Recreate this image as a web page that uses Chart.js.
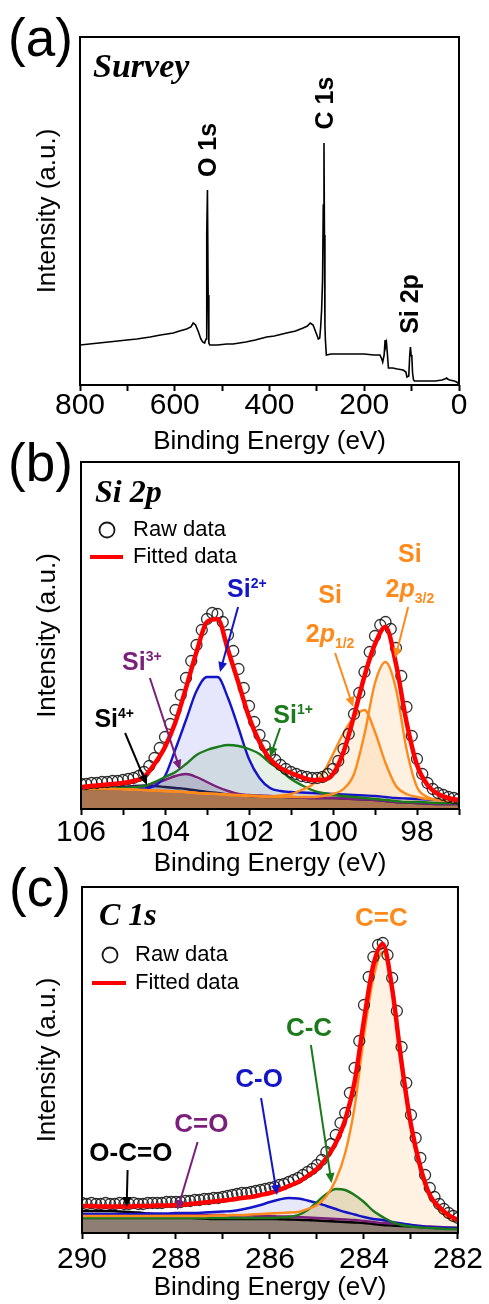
<!DOCTYPE html>
<html><head><meta charset="utf-8">
<script src="https://cdn.jsdelivr.net/npm/chart.js@4.4.1/dist/chart.umd.min.js"></script>
<style>
html,body{margin:0;padding:0;background:#fff;}
#wrap{position:relative;width:489px;height:1304px;overflow:hidden;background:#fff;}
canvas{position:absolute;left:0;}
</style></head><body>
<div id="wrap">
<canvas id="cA" width="489" height="460" style="top:0px;width:489px;height:460px"></canvas>
<canvas id="cB" width="489" height="450" style="top:430px;width:489px;height:450px"></canvas>
<canvas id="cC" width="489" height="454" style="top:850px;width:489px;height:454px"></canvas>
</div>
<script>
// ---------------- DATA ----------------
// (a) survey
const SURVEY_E = [800,760,720,701,680,652,630,603,590,575,566,561,556,550,545,541,537,534,532.5,531,529.5,528,526,510,490,477,450,430,406,390,364,345,329,320,314,308,304,300,297,294,292,290,288,286.5,285,284,283,282,280,270,250,230,200,180,167,163,161,158,156,155,153,151,149,146,140,130,118,112,110,106,104,102.5,101,99.5,98,96,94,80,64,50,36,30,26,24,20,10,5,2,0];
const SURVEY_I = [40,42,44,45,46,48,50,52,54,56,58,62,60,53,46,43,42,46,150,195,90,42,40,40,41,41,43,45,48,49,52,54,57,59,62,60,55,50,46,47,58,75,105,180,242,150,60,45,30,31,31,31,31,30,30,26,23,30,45,38,42,30,17,17,17,16,15,13,8,9,30,38,30,28,12,5,4,4,4,4,5,6,7,6,5,4,3,2,0];
const SURVEY_TICKS = [800,600,400,200,0];

// (b) Si 2p
const SI_E = [106,105.75,105.5,105.25,105,104.75,104.5,104.25,104,103.75,103.5,103.25,103,102.75,102.5,102.25,102,101.75,101.5,101.25,101,100.75,100.5,100.25,100,99.75,99.5,99.25,99,98.75,98.5,98.25,98,97.75,97.5,97.25,97];
const SI_BG  = [20,20,20,20,19.8,19.5,19,18.5,18,17.5,17,16,15.5,15,14,13.5,13,12.5,12,12,11.5,11.5,11,11,11,10.5,10,9.5,9,8,7,6.5,6,5.5,5,5,5];
const SI_FIT = [22,23,24,25,26,28,32,45,62,87,121,157,187,190,159,126,92,67,50,41,36,32,29,29,35,57,93,133,165,182,145,87,44,24,15,11,9];
const SI_4   = [20.5,21,21,21.5,22,23,23.5,23,22,21,20,18.5,17,16,14.5,14,13,12.5,12,12,11.5,11.5,11,11,11,10.5,10,9.5,9,8,7,6.5,6,5.5,5,5,5];
const SI_3   = [20,20,20,20.5,21,21.5,23,26,29,33,35,32,27,22,18,15,14,13.5,13,12.5,12,11.5,11,11,11,10.5,10,9.5,9,8,7,6.5,6,5.5,5,5,5];
const SI_2   = [20,20,20,20,20,20,20.5,23,33,60,89,118,132,132,111,81,50,31,21,18,17,16.5,16,15.5,15,14.5,14,13.5,13,12,11,10.5,10,9.5,9,9,9];
const SI_1   = [20,20,20,20.5,21,21.5,23,27,32,37,45,54,59,62,64,63,60,55,46,39,30,24,19,16,14,13,12,11,10,9,8,7,7,6.5,6,6,6];
const SI_P12 = [20,20,20,20,19.8,19.5,19,18.5,18,17.5,17,16,15.5,15,14.5,14,13.5,13,12.5,13.5,15,19,24,35,55,76,92,99,77,46,23,15,12,10,9,8,8];
const SI_P32 = [20,20,20,20,19.8,19.5,19,18.5,18,17.5,17,16,15.5,15,14,13.5,13,12.5,12,12,12,12,12,13,15,20,35,75,126,147,120,60,22,12,9,8,7];
const SI_RAW_E = [106,105.875,105.75,105.625,105.5,105.375,105.25,105.125,105,104.875,104.75,104.625,104.5,104.375,104.25,104.125,104,103.875,103.75,103.625,103.5,103.375,103.25,103.125,103,102.875,102.75,102.625,102.5,102.375,102.25,102.125,102,101.875,101.75,101.625,101.5,101.375,101.25,101.125,101,100.875,100.75,100.625,100.5,100.375,100.25,100.125,100,99.875,99.75,99.625,99.5,99.375,99.25,99.125,99,98.875,98.75,98.625,98.5,98.375,98.25,98.125,98,97.875,97.75,97.625,97.5,97.375,97.25,97.125,97];
const SI_RAW = [25,25,26,26,27,27,28,28,29,30,31,33,37,43,51,61,72,85,99,114,131,148,164,179,190,196,195,187,174,158,140,121,103,87,74,63,55,49,44,40,37,35,33,32,31,31,32,35,40,48,60,75,95,116,137,157,173,184,187,180,161,133,102,73,50,35,26,20,16,14,12,11,10];
const SI_TICKS = [106,104,102,100,98];

// (c) C 1s
const C_E = [290,289.8,289.6,289.4,289.2,289,288.8,288.6,288.4,288.2,288,287.8,287.6,287.4,287.2,287,286.8,286.6,286.4,286.2,286,285.8,285.6,285.4,285.2,285,284.8,284.6,284.4,284.2,284,283.8,283.6,283.4,283.2,283,282.8,282.6,282.4,282.2,282];
const C_BG   = [14,14,14,14,14,14,14,14,14,14,14,14,14,14,14,14,14,14,14,14,14,13.8,13.5,13.3,13,12.5,12,11.5,11,10.5,10,9,8,7.5,7,6.5,6,5.5,5,5,5];
const C_FIT  = [27,27,26.5,26.5,26.5,26.5,27,27,27.5,27.5,28,28.5,29.5,30.5,31.5,32.5,33.5,35,36,38,40,43,47,51,57,64,75,90,113,151,213,268,289,244,170,108,66,38,26,18,13];
const C_CC   = [17,17,17,17,17,17,17,17,17,17,17,17,17,17,17.5,17.5,18,18,18.5,19,19.5,20,20.5,21,24,28,37,53,80,126,197,255,281,248,176,108,62,36,23,15,11];
const C_C    = [15,15,15,15,15,15,15,15,15,15,15,15,15,15,15,15,15,15,15,15,15,15.5,16,18,23,31,39,44,43,38,31,22,16,11,8,6.5,5.5,5,4.5,4,4];
const C_CO   = [19,19,19,19,19,19,19,19.5,19.5,19.5,20,20,20,20.5,21,21.5,22,23.5,25.5,28,31,33.5,35,34.5,32.5,30,27,24,21,18.5,16,14,13,11,9.5,8,7,6,5.5,5,5];
const C_CDO  = [17,17,17,17,17.5,17.5,17.5,18,18,18,18,18,18,18,18,18,17.5,17.5,17.5,17,17,16.5,16.5,16,15.5,15,14.5,14,13.5,13,12,11,10,9.5,9,8,7,6.5,6,5.5,5];
const C_OCO  = [22,22,22,22,21.5,21,20.5,19.5,18.5,17.5,16.5,15.5,15,14.5,14,14,14,14,14,14,14,13.8,13.5,13.3,13,12.5,12,11.5,11,10.5,10,9,8,7.5,7,6.5,6,5.5,5,5,5];
const C_RAW_E = [290,289.9,289.8,289.7,289.6,289.5,289.4,289.3,289.2,289.1,289,288.9,288.8,288.7,288.6,288.5,288.4,288.3,288.2,288.1,288,287.9,287.8,287.7,287.6,287.5,287.4,287.3,287.2,287.1,287,286.9,286.8,286.7,286.6,286.5,286.4,286.3,286.2,286.1,286,285.9,285.8,285.7,285.6,285.5,285.4,285.3,285.2,285.1,285,284.9,284.8,284.7,284.6,284.5,284.4,284.3,284.2,284.1,284,283.9,283.8,283.7,283.6,283.5,283.4,283.3,283.2,283.1,283,282.9,282.8,282.7,282.6,282.5,282.4,282.3,282.2,282.1,282];
const C_RAW = [30,29,30,29,29,30,29,29,30,29,29,30,29,29,30,30,30,30,31,31,31,31,32,32,33,33,34,34,35,35,36,37,38,39,40,40,41,42,43,44,45,46,48,49,51,53,55,58,61,64,68,73,81,89,98,110,120,140,165,192,228,256,276,288,290,278,255,222,186,150,118,95,75,58,45,36,29,24,20,17,15];
const C_TICKS = [290,288,286,284,282];

// ---------------- STYLE ----------------
const SANS = '"Liberation Sans", Arial, Helvetica, sans-serif';
const SERIF = '"Liberation Serif", "Times New Roman", serif';
const ORANGE = '#ff8a1c', BLUE = '#1414c8', GREEN = '#1b7a1b', PURPLE = '#7a1f7a', NAVY = '#20204e', RED = '#ff0000';

const pts = (xs, ys) => xs.map((x, i) => ({x, y: ys[i]}));

function comp(label, xs, ys, color, fillColor, target) {
  return {label, data: pts(xs, ys), borderColor: color, borderWidth: 2.4,
    fill: fillColor ? {target: target, above: fillColor, below: fillColor} : false,
    pointRadius: 0, cubicInterpolationMode: 'monotone'};
}
function fitSet(xs, ys) {
  return {label: 'Fitted data', data: pts(xs, ys), borderColor: RED, borderWidth: 4.5,
    pointRadius: 0, fill: false, cubicInterpolationMode: 'monotone'};
}
function rawSet(xs, ys) {
  return {label: 'Raw data', data: pts(xs, ys), showLine: false, pointRadius: 5.5,
    pointBorderWidth: 1.3, pointBorderColor: 'rgba(25,25,25,0.9)', pointBackgroundColor: 'rgba(0,0,0,0)', fill: false};
}
function bgSet(xs, ys, fillColor, lineColor) {
  return {label: 'Background', data: pts(xs, ys), borderColor: lineColor, borderWidth: 1.5,
    backgroundColor: fillColor, fill: {target: 'start', above: fillColor, below: fillColor},
    pointRadius: 0, cubicInterpolationMode: 'monotone'};
}

function drawArrow(ctx, x1, y1, x2, y2, color) {
  const ang = Math.atan2(y2 - y1, x2 - x1), L = 10, W = 4.5;
  ctx.strokeStyle = color; ctx.fillStyle = color; ctx.lineWidth = 2;
  ctx.beginPath(); ctx.moveTo(x1, y1);
  ctx.lineTo(x2 - Math.cos(ang) * L * 0.8, y2 - Math.sin(ang) * L * 0.8); ctx.stroke();
  ctx.beginPath(); ctx.moveTo(x2, y2);
  ctx.lineTo(x2 - L * Math.cos(ang) + W * Math.sin(ang), y2 - L * Math.sin(ang) - W * Math.cos(ang));
  ctx.lineTo(x2 - L * Math.cos(ang) - W * Math.sin(ang), y2 - L * Math.sin(ang) + W * Math.cos(ang));
  ctx.closePath(); ctx.fill();
}
function rich(ctx, cx, by, parts, color) {
  let total = 0;
  parts.forEach(p => { ctx.font = p.f; p.w = ctx.measureText(p.t).width; total += p.w; });
  let x = cx - total / 2;
  ctx.fillStyle = color; ctx.textAlign = 'left'; ctx.textBaseline = 'alphabetic';
  parts.forEach(p => { ctx.font = p.f; ctx.fillText(p.t, x, by + (p.dy || 0)); x += p.w; });
}
const B25 = 'bold 25px ' + SANS, B14 = 'bold 14px ' + SANS, BI25 = 'italic bold 25px ' + SANS, B26 = 'bold 26px ' + SANS;
const sup = (t) => ({t, f: B14, dy: -9});
const sub = (t) => ({t, f: B14, dy: 6});

function decor(cfg) {
  return {
    id: 'decor',
    afterDraw(chart) {
      const {ctx, chartArea: a} = chart;
      const sx = chart.scales.x, sy = chart.scales.y;
      const px = (e) => sx.getPixelForValue(e), py = (v) => sy.getPixelForValue(v);
      ctx.save();
      ctx.strokeStyle = '#000'; ctx.lineWidth = 2;
      ctx.strokeRect(a.left, a.top, a.right - a.left, a.bottom - a.top);
      ctx.fillStyle = '#000'; ctx.textAlign = 'left'; ctx.textBaseline = 'alphabetic';
      ctx.font = '53px ' + SANS;
      ctx.fillText(cfg.letter, cfg.letterX, cfg.letterY);
      ctx.font = 'italic bold ' + cfg.titleSize + 'px ' + SERIF;
      ctx.fillText(cfg.title, a.left + cfg.titleDX, a.top + cfg.titleDY);
      if (cfg.legend) {
        const L = cfg.legend;
        ctx.strokeStyle = '#1a1a1a'; ctx.lineWidth = 1.8;
        ctx.beginPath(); ctx.arc(a.left + L.cx, a.top + L.cy, 7.5, 0, Math.PI * 2); ctx.stroke();
        ctx.strokeStyle = RED; ctx.lineWidth = 4;
        ctx.beginPath(); ctx.moveTo(a.left + L.lx1, a.top + L.ly); ctx.lineTo(a.left + L.lx2, a.top + L.ly); ctx.stroke();
        ctx.fillStyle = '#000'; ctx.font = '22px ' + SANS; ctx.textBaseline = 'middle';
        ctx.fillText('Raw data', a.left + L.tx, a.top + L.cy);
        ctx.fillText('Fitted data', a.left + L.tx, a.top + L.ly);
      }
      (cfg.rot || []).forEach(r => {
        ctx.save(); ctx.translate(px(r.e), py(r.v)); ctx.rotate(-Math.PI / 2);
        ctx.fillStyle = '#000'; ctx.font = 'bold 25px ' + SANS; ctx.textAlign = 'center'; ctx.textBaseline = 'middle';
        ctx.fillText(r.t, 0, 0); ctx.restore();
      });
      (cfg.arrows || []).forEach(r => drawArrow(ctx, px(r[0]), py(r[1]), px(r[2]), py(r[3]), r[4]));
      (cfg.labels || []).forEach(l => rich(ctx, px(l.e), py(l.v), l.parts, l.c));
      ctx.restore();
    }
  };
}

function makeChart(id, cfg) {
  const tickSet = cfg.ticks;
  return new Chart(document.getElementById(id), {
    type: 'line',
    data: {datasets: cfg.datasets},
    options: {
      responsive: false, animation: false, devicePixelRatio: 1,
      layout: {padding: {top: cfg.padTop, right: cfg.padRight, left: 0, bottom: 0}},
      plugins: {legend: {display: false}, tooltip: {enabled: false}, filler: {drawTime: 'beforeDatasetsDraw'}},
      scales: {
        x: {
          type: 'linear', position: 'bottom', reverse: true, min: cfg.xmin, max: cfg.xmax,
          afterFit: (s) => { s.height = cfg.xH; },
          ticks: {stepSize: cfg.step, autoSkip: false, maxRotation: 0, color: '#000', padding: cfg.tickPad,
            font: {family: SANS, size: 30, lineHeight: 1},
            callback: (v) => tickSet.includes(v) ? String(v) : ''},
          grid: {display: true, drawOnChartArea: false, drawTicks: true, tickLength: 6, tickWidth: 2, tickColor: '#000'},
          border: {display: false},
          title: {display: true, text: 'Binding Energy (eV)', color: '#000',
            font: {family: SANS, size: 26, lineHeight: 1.2}, padding: {top: 0, bottom: cfg.titlePad}}
        },
        y: {
          type: 'linear', position: 'left', min: 0, max: cfg.ymax,
          afterFit: (s) => { s.width = cfg.yW; },
          ticks: {display: false}, grid: {display: false}, border: {display: false},
          title: {display: true, text: 'Intensity (a.u.)', color: '#000',
            font: {family: SANS, size: 26, lineHeight: 1.2}, padding: {top: 32, bottom: 0}}
        }
      },
      elements: {line: {tension: 0}}
    },
    plugins: [decor(cfg.decor)]
  });
}

// (a)
makeChart('cA', {
  padTop: 37, padRight: 30, xH: 75, yW: 80, tickPad: 0, titlePad: 2.4,
  xmin: 0, xmax: 800, step: 100, ymax: 348, ticks: SURVEY_TICKS,
  datasets: [{label: 'Survey', data: pts(SURVEY_E, SURVEY_I), borderColor: '#000', borderWidth: 1.6, pointRadius: 0, fill: false}],
  decor: {letter: '(a)', letterX: 8, letterY: 56, title: 'Survey', titleSize: 34, titleDX: 13, titleDY: 40,
    rot: [{t: 'O 1s', e: 527.7, v: 235}, {t: 'C 1s', e: 280.7, v: 282}, {t: 'Si 2p', e: 101.3, v: 81}]}
});

// (b)
makeChart('cB', {
  padTop: 32, padRight: 30, xH: 71, yW: 81, tickPad: 3, titlePad: 0.4,
  xmin: 97, xmax: 106, step: 1, ymax: 347, ticks: SI_TICKS,
  datasets: [
    fitSet(SI_E, SI_FIT),
    rawSet(SI_RAW_E, SI_RAW),
    comp('Si 2p3/2', SI_E, SI_P32, ORANGE, 'rgba(255,160,60,0.15)', 8),
    comp('Si 2p1/2', SI_E, SI_P12, ORANGE, 'rgba(255,160,60,0.15)', 8),
    comp('Si1+', SI_E, SI_1, GREEN, 'rgba(60,140,60,0.13)', 8),
    comp('Si2+', SI_E, SI_2, BLUE, 'rgba(90,90,235,0.15)', 8),
    comp('Si3+', SI_E, SI_3, PURPLE, 'rgba(90,50,110,0.22)', 8),
    comp('Si4+', SI_E, SI_4, NAVY, 'rgba(20,20,60,0.12)', 8),
    bgSet(SI_E, SI_BG, 'rgb(172,118,80)', 'rgb(150,95,60)')
  ],
  decor: {letter: '(b)', letterX: 8, letterY: 51, title: 'Si 2p', titleSize: 32, titleDX: 14, titleDY: 40,
    legend: {cx: 26, cy: 68, lx1: 9, lx2: 42, ly: 95, tx: 52},
    arrows: [
      [102.26, 202, 102.69, 137, BLUE], [104.36, 131, 103.64, 39, PURPLE], [104.95, 76, 104.43, 24, '#000'],
      [101.26, 81, 101.5, 52, GREEN], [99.95, 156, 99.52, 102, ORANGE], [98.21, 202, 98.52, 151, ORANGE]
    ],
    labels: [
      {e: 98.17, v: 247, c: ORANGE, parts: [{t: 'Si', f: B25}]},
      {e: 98.17, v: 212, c: ORANGE, parts: [{t: '2', f: B25}, {t: 'p', f: BI25}, sub('3/2')]},
      {e: 100.07, v: 206, c: ORANGE, parts: [{t: 'Si', f: B25}]},
      {e: 100.07, v: 167, c: ORANGE, parts: [{t: '2', f: B25}, {t: 'p', f: BI25}, sub('1/2')]},
      {e: 102.05, v: 212, c: BLUE, parts: [{t: 'Si', f: B25}, sup('2+')]},
      {e: 104.55, v: 139, c: PURPLE, parts: [{t: 'Si', f: B25}, sup('3+')]},
      {e: 100.95, v: 86, c: GREEN, parts: [{t: 'Si', f: B25}, sup('1+')]},
      {e: 105.21, v: 82, c: '#000', parts: [{t: 'Si', f: B25}, sup('4+')]}
    ]}
});

// (c)
makeChart('cC', {
  padTop: 37, padRight: 29, xH: 71, yW: 82, tickPad: 6, titlePad: 0.4,
  xmin: 282, xmax: 290, step: 1, ymax: 346, ticks: C_TICKS,
  datasets: [
    fitSet(C_E, C_FIT),
    rawSet(C_RAW_E, C_RAW),
    comp('C=C', C_E, C_CC, ORANGE, 'rgba(255,170,70,0.15)', 7),
    comp('C-C', C_E, C_C, GREEN, 'rgba(110,120,30,0.2)', 7),
    comp('C-O', C_E, C_CO, BLUE, 'rgba(90,90,235,0.14)', 7),
    comp('C=O', C_E, C_CDO, PURPLE, 'rgba(110,30,80,0.15)', 7),
    comp('O-C=O', C_E, C_OCO, '#000', 'rgba(0,0,0,0.12)', 7),
    bgSet(C_E, C_BG, 'rgb(142,126,116)', 'rgb(120,100,95)')
  ],
  decor: {letter: '(c)', letterX: 9, letterY: 56, title: 'C 1s', titleSize: 32, titleDX: 17, titleDY: 38,
    legend: {cx: 28, cy: 68, lx1: 10, lx2: 44, ly: 96, tx: 53},
    arrows: [
      [285.13, 188, 284.69, 50, GREEN], [286.19, 135, 285.85, 38, BLUE],
      [287.54, 91, 287.97, 23, PURPLE], [289.03, 63, 289.05, 26, '#000']
    ],
    labels: [
      {e: 283.63, v: 307, c: ORANGE, parts: [{t: 'C=C', f: B26}]},
      {e: 285.17, v: 197, c: GREEN, parts: [{t: 'C-C', f: B26}]},
      {e: 286.23, v: 146, c: BLUE, parts: [{t: 'C-O', f: B26}]},
      {e: 287.46, v: 101, c: PURPLE, parts: [{t: 'C=O', f: B26}]},
      {e: 288.96, v: 72, c: '#000', parts: [{t: 'O-C=O', f: B26}]}
    ]}
});
</script>
</body></html>
